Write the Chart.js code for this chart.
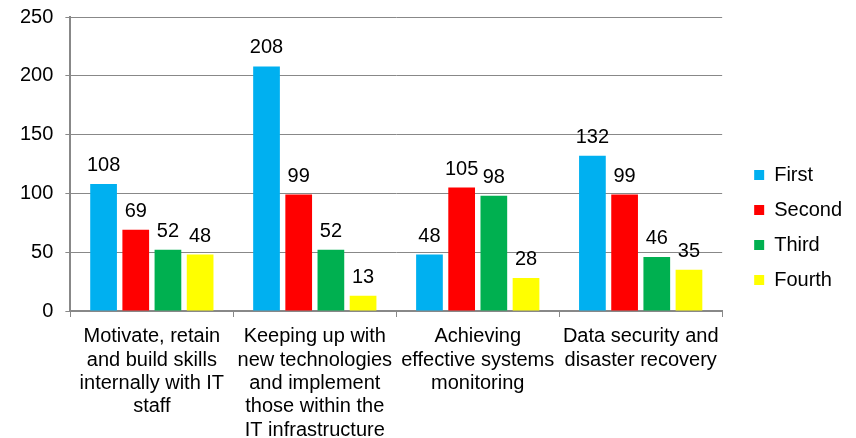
<!DOCTYPE html>
<html lang="en">
<head>
    <meta charset="UTF-8">
    <title>IT priorities</title>
    <script src="https://cdn.jsdelivr.net/npm/chart.js"></script>
    <style>
        html, body {
            margin: 0;
            padding: 0;
            background: #ffffff;
        }
        .wrap {
            width: 856px;
            height: 438px;
        }
    </style>
</head>
<body>
    <div class="wrap">
        <canvas id="chart" width="856" height="438"></canvas>
    </div>
    <script>
        // categories (multi-line labels, as wrapped in the original)
        const categories = [
            ['Motivate, retain', 'and build skills', 'internally with IT', 'staff'],
            ['Keeping up with', 'new technologies', 'and implement', 'those within the', 'IT infrastructure'],
            ['Achieving', 'effective systems', 'monitoring'],
            ['Data security and', 'disaster recovery']
        ];
        const seriesNames = ['First', 'Second', 'Third', 'Fourth'];
        const first = [108, 208, 48, 132];
        const second = [69, 99, 105, 99];
        const third = [52, 52, 98, 46];
        const fourth = [48, 13, 28, 35];
        const yTicks = [0, 50, 100, 150, 200, 250];

        const colors = ['#00B0F0', '#FF0000', '#00B050', '#FFFF00'];
        const font = 'Liberation Sans, Arial, sans-serif';

        // draws the value above each bar
        const valueLabels = {
            id: 'valueLabels',
            afterDatasetsDraw(chart) {
                const ctx = chart.ctx;
                ctx.save();
                ctx.font = '20px ' + font;
                ctx.fillStyle = '#000';
                ctx.textAlign = 'center';
                ctx.textBaseline = 'alphabetic';
                chart.data.datasets.forEach((ds, i) => {
                    const meta = chart.getDatasetMeta(i);
                    meta.data.forEach((bar, j) => {
                        ctx.fillText(String(ds.data[j]), bar.x, bar.y - 13);
                    });
                });
                ctx.restore();
            }
        };

        const seriesData = [first, second, third, fourth];

        new Chart(document.getElementById('chart'), {
            type: 'bar',
            data: {
                labels: categories,
                datasets: seriesNames.map((name, i) => ({
                    label: name,
                    data: seriesData[i],
                    backgroundColor: colors[i],
                    borderWidth: 0,
                    categoryPercentage: 0.79,
                    barPercentage: 0.83
                }))
            },
            options: {
                responsive: false,
                animation: false,
                layout: {
                    padding: { top: 17, left: 8, right: 4, bottom: 0 }
                },
                plugins: {
                    legend: {
                        position: 'right',
                        labels: {
                            boxWidth: 10,
                            boxHeight: 10,
                            padding: 15,
                            color: '#000',
                            font: { family: font, size: 20 }
                        }
                    },
                    tooltip: { enabled: false }
                },
                scales: {
                    x: {
                        grid: {
                            display: true,
                            drawOnChartArea: false,
                            color: '#888',
                            tickLength: 6
                        },
                        border: { color: '#888', width: 2 },
                        ticks: {
                            color: '#000',
                            autoSkip: false,
                            maxRotation: 0,
                            padding: 8,
                            font: { family: font, size: 20, lineHeight: 1.17 }
                        },
                        afterFit(scale) {
                            scale.height = 127;
                        }
                    },
                    y: {
                        min: 0,
                        max: 250,
                        afterBuildTicks(axis) {
                            axis.ticks = yTicks.map(v => ({ value: v }));
                        },
                        afterFit(scale) {
                            scale.paddingTop = 0;
                        },
                        grid: {
                            color: '#888',
                            tickLength: 5
                        },
                        border: { color: '#888', width: 2 },
                        ticks: {
                            color: '#000',
                            padding: 12,
                            font: { family: font, size: 20 }
                        }
                    },
                    // empty spacer between the plot and the legend
                    gap: {
                        position: 'right',
                        grid: { display: false },
                        border: { display: false },
                        ticks: { display: false },
                        afterFit(scale) {
                            scale.width = 17;
                            scale.paddingTop = 0;
                            scale.paddingBottom = 0;
                        }
                    }
                }
            },
            plugins: [valueLabels]
        });
    </script>
</body>
</html>
